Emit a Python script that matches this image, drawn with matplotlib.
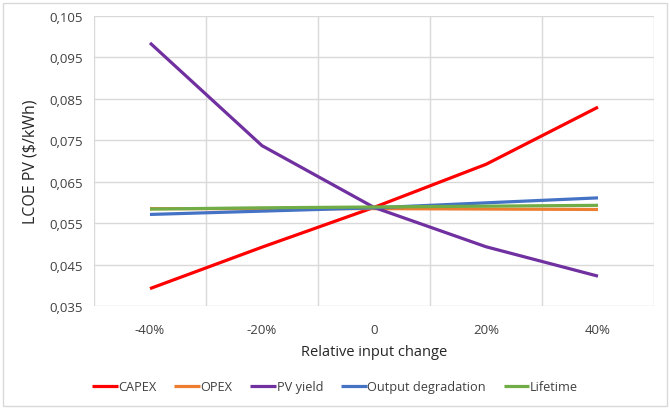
import matplotlib
matplotlib.use('Agg')
import matplotlib.pyplot as plt
from matplotlib import rcParams
from matplotlib.ticker import FixedLocator, FuncFormatter
from matplotlib.patches import Rectangle

# Data
categories = ['-40%', '-20%', '0', '20%', '40%']
capex = [0.0392, 0.0492, 0.0588, 0.0692, 0.0830]
opex = [0.0585, 0.0585, 0.0585, 0.0584, 0.0583]
pv_yield = [0.0985, 0.0737, 0.0588, 0.0493, 0.0422]
output_degradation = [0.0571, 0.0579, 0.0587, 0.0599, 0.0611]
lifetime = [0.0584, 0.0587, 0.0589, 0.0591, 0.0593]

series = [('CAPEX', capex, '#FF0000'),
          ('OPEX', opex, '#ED7D31'),
          ('PV yield', pv_yield, '#7030A0'),
          ('Output degradation', output_degradation, '#4472C4'),
          ('Lifetime', lifetime, '#70AD47')]

rcParams['font.family'] = ['Open Sans', 'DejaVu Sans']
rcParams['font.size'] = 9.5
rcParams['text.color'] = '#404040'

fig = plt.figure(figsize=(6.7, 4.1), dpi=100)
ax = fig.add_axes([94 / 670, 1 - 307 / 410, (654 - 94) / 670, (307 - 17) / 410])

x = list(range(len(categories)))
for name, vals, col in series:
    ax.plot(x, vals, color=col, lw=2.3, label=name, solid_capstyle='butt')

ax.set_xlim(-0.5, len(categories) - 0.5)
ax.set_ylim(0.035, 0.105)
ax.set_xticks(x)
ax.set_xticklabels(categories)
ax.xaxis.set_minor_locator(FixedLocator([i - 0.5 for i in range(len(categories) + 1)]))
ax.set_yticks([0.035 + 0.01 * i for i in range(8)])
ax.yaxis.set_major_formatter(FuncFormatter(lambda v, p: ('%.3f' % v).replace('.', ',')))

ax.grid(True, which='minor', axis='x', color='#D9D9D9', lw=1)
ax.grid(True, which='major', axis='y', color='#D9D9D9', lw=1)
ax.set_axisbelow(True)
for s in ax.spines.values():
    s.set_visible(False)
ax.tick_params(which='both', length=0, colors='#404040', labelsize=9.5)
ax.tick_params(axis='x', pad=12)
ax.tick_params(axis='y', pad=8)

ax.set_xlabel('Relative input change', fontsize=10.5, color='#262626', labelpad=6)
ax.set_ylabel('LCOE PV ($/kWh)', fontsize=11.5, color='#262626', labelpad=8)

fig.legend(loc='center', bbox_to_anchor=(0.5, 1 - 388 / 410), ncol=5, frameon=False,
           handlelength=2.0, handletextpad=0.05, columnspacing=1.4, fontsize=9.2)

fig.patches.append(Rectangle((3 / 670, 3 / 410), 664 / 670, 403 / 410, transform=fig.transFigure,
                             fill=False, edgecolor='#D9D9D9', lw=1))

fig.savefig('out.png', dpi=100)
